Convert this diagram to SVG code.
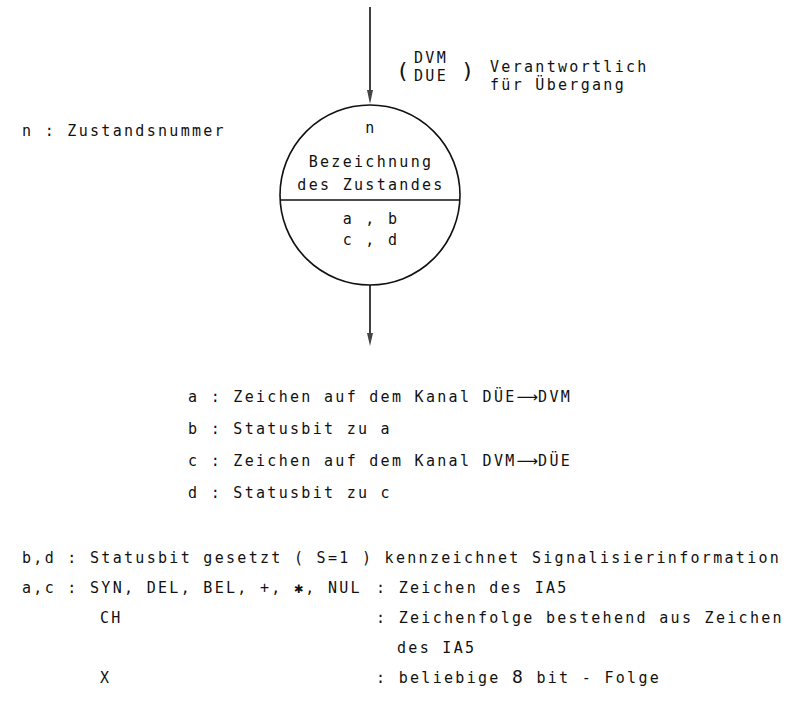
<svg xmlns="http://www.w3.org/2000/svg" width="795" height="703" viewBox="0 0 795 703">
<style>
  text { font-family: "DejaVu Sans Mono", "Liberation Mono", monospace; font-size: 15px; letter-spacing: 2.3px; fill: #111; }
  .c { text-anchor: middle; }
  .ln { stroke: #111; stroke-width: 1.6; fill: none; }
  .ah { fill: #444; }
  .arr { font-family: "DejaVu Sans", sans-serif; letter-spacing: 0; }
  .par { font-size: 22px; }
</style>
<rect width="795" height="703" fill="#fff"/>
<g id="connectors">
  <line class="ln" x1="370" y1="7" x2="370" y2="91"/>
  <path class="ah" d="M367,90 L373,90 L370,104 Z"/>
  <line class="ln" x1="370" y1="285" x2="370" y2="334"/>
  <path class="ah" d="M367,333 L373,333 L370,346 Z"/>
</g>
<g id="label-responsible">
  <text class="par" x="396" y="78">(</text>
  <text x="414" y="63">DVM</text>
  <text x="414" y="81">DUE</text>
  <text class="par" x="461" y="78">)</text>
  <text x="490" y="72">Verantwortlich</text>
  <text x="490" y="90">für Übergang</text>
</g>
<g id="legend-n">
  <text x="22" y="136">n : Zustandsnummer</text>
</g>
<g id="state">
  <circle class="ln" cx="370" cy="195" r="90"/>
  <line class="ln" x1="280" y1="200" x2="460" y2="200"/>
  <text class="c" x="371" y="133">n</text>
  <text class="c" x="371" y="167">Bezeichnung</text>
  <text class="c" x="371" y="190">des Zustandes</text>
  <text class="c" x="371" y="224">a , b</text>
  <text class="c" x="371" y="245">c , d</text>
</g>
<g id="legend-abcd">
  <text x="188" y="402">a : Zeichen auf dem Kanal DÜE<tspan class="arr">⟶</tspan>DVM</text>
  <text x="188" y="434">b : Statusbit zu a</text>
  <text x="188" y="466">c : Zeichen auf dem Kanal DVM<tspan class="arr">⟶</tspan>DÜE</text>
  <text x="188" y="498">d : Statusbit zu c</text>
</g>
<g id="legend-bottom">
  <text x="22" y="563">b,d :</text>
  <text x="90" y="563">Statusbit gesetzt ( S=1 ) kennzeichnet Signalisierinformation</text>
  <text x="22" y="593">a,c :</text>
  <text x="90" y="593">SYN, DEL, BEL, +, ✱, NUL</text>
  <text x="376" y="593">: Zeichen des IA5</text>
  <text x="100" y="623">CH</text>
  <text x="376" y="623">: Zeichenfolge bestehend aus Zeichen</text>
  <text x="397" y="653">des IA5</text>
  <text x="100" y="683">X</text>
  <text x="376" y="683">: beliebige <tspan style="font-size:18px">8</tspan> bit - Folge</text>
</g>
</svg>
